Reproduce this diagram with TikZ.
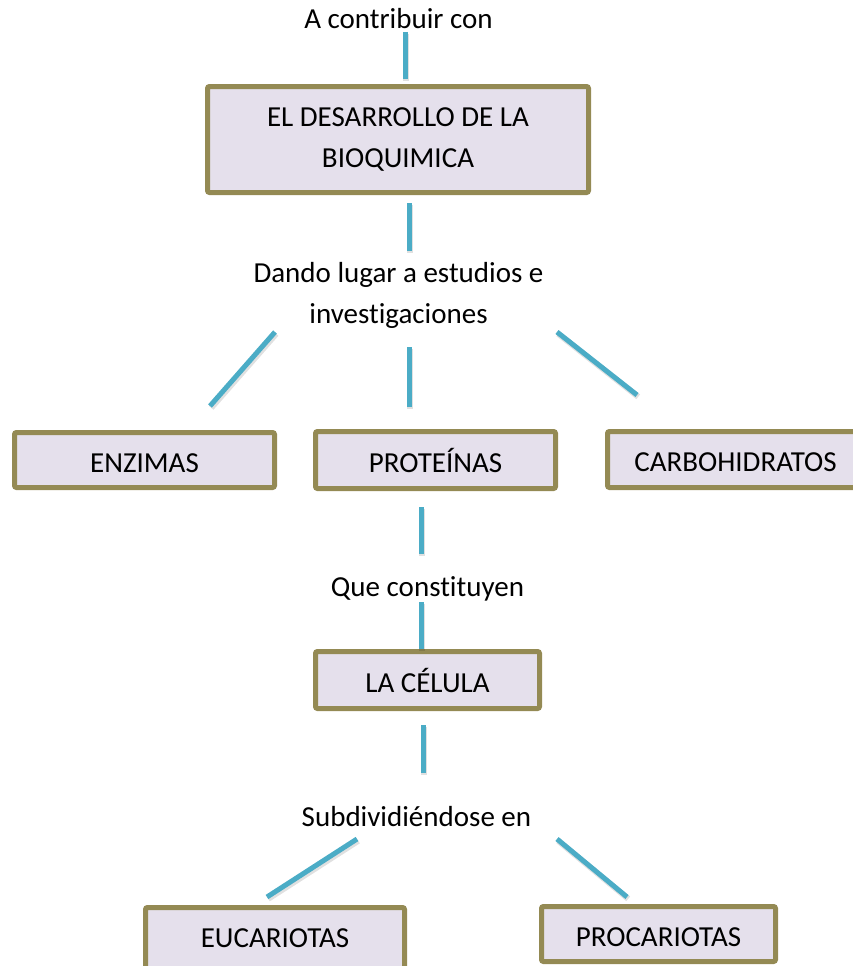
\documentclass[tikz,border=0pt]{standalone}
\usepackage{fontspec}
\setmainfont{Carlito}[Ligatures=NoCommon]
\definecolor{linec}{HTML}{4BACC6}
\definecolor{boxline}{HTML}{948A54}
\definecolor{boxfill}{HTML}{E5E0EC}
\begin{document}
\begin{tikzpicture}[x=1pt,y=-1pt,
  txt/.style={font=\fontsize{29}{41}\selectfont, inner sep=0pt, align=center},
  boxbase/.style={draw=boxline, fill=boxfill, line width=5pt, rounded corners=2pt,
    inner sep=0pt, font=\fontsize{29}{41}\selectfont},
  conceptbox/.style={boxbase, text height=24pt, text depth=0pt},
  conn/.style={draw=linec, line width=5pt,
    preaction={draw=black, draw opacity=0.12, line width=6pt,
      transform canvas={xshift=1.2pt, yshift=-1.8pt}}}]
\useasboundingbox (0,0) rectangle (852,966);

% texts and boxes
\node[txt, anchor=base] (contrib) at (398.5,29) {A contribuir con};
\node[boxbase, align=center, minimum width=381pt, minimum height=106pt] (bioq) at (398,139.5) {EL DESARROLLO DE LA\\BIOQUIMICA};
\node[txt] (dando) at (398.5,295) {Dando lugar a estudios e\\investigaciones};
\node[conceptbox, minimum width=260pt, minimum height=55pt] (enz) at (144.5,460) {ENZIMAS};
\node[conceptbox, minimum width=240pt, minimum height=57pt] (prot) at (435.5,460) {PROTEÍNAS};
\node[conceptbox, minimum width=256pt, minimum height=56pt] (carb) at (735.5,459.5) {CARBOHIDRATOS};
\node[txt, anchor=base] (que) at (427.5,596) {Que constituyen};
\node[conceptbox, minimum width=224pt, minimum height=57pt] (cel) at (427.5,680) {LA CÉLULA};
\node[txt, anchor=base] (subd) at (416.5,826) {Subdividiéndose en};
\node[conceptbox, minimum width=259pt, minimum height=65pt, text height=14pt] (euc) at (275,940) {EUCARIOTAS};
\node[conceptbox, minimum width=234pt, minimum height=55pt] (proc) at (658.5,934) {PROCARIOTAS};

% connector end points
\coordinate (l1a) at (405,32);  \coordinate (l1b) at (405,79);
\coordinate (l2a) at (409,203); \coordinate (l2b) at (409,251);
\coordinate (l3a) at (275,332); \coordinate (l3b) at (210,406);
\coordinate (l4a) at (409,347); \coordinate (l4b) at (409,407);
\coordinate (l5a) at (557,332); \coordinate (l5b) at (637,395);
\coordinate (l6a) at (421,507); \coordinate (l6b) at (421,554);
\coordinate (l7a) at (421,602); \coordinate (l7b) at (421,649);
\coordinate (l8a) at (423,725); \coordinate (l8b) at (423,773);
\coordinate (l9a) at (357,839); \coordinate (l9b) at (267,897);
\coordinate (l10a) at (557,839); \coordinate (l10b) at (627,897);

\draw[conn] (l1a) -- (l1b);
\draw[conn] (l2a) -- (l2b);
\draw[conn] (l3a) -- (l3b);
\draw[conn] (l4a) -- (l4b);
\draw[conn] (l5a) -- (l5b);
\draw[conn] (l6a) -- (l6b);
\draw[conn] (l7a) -- (l7b);
\draw[conn] (l8a) -- (l8b);
\draw[conn] (l9a) -- (l9b);
\draw[conn] (l10a) -- (l10b);
\end{tikzpicture}
\end{document}
